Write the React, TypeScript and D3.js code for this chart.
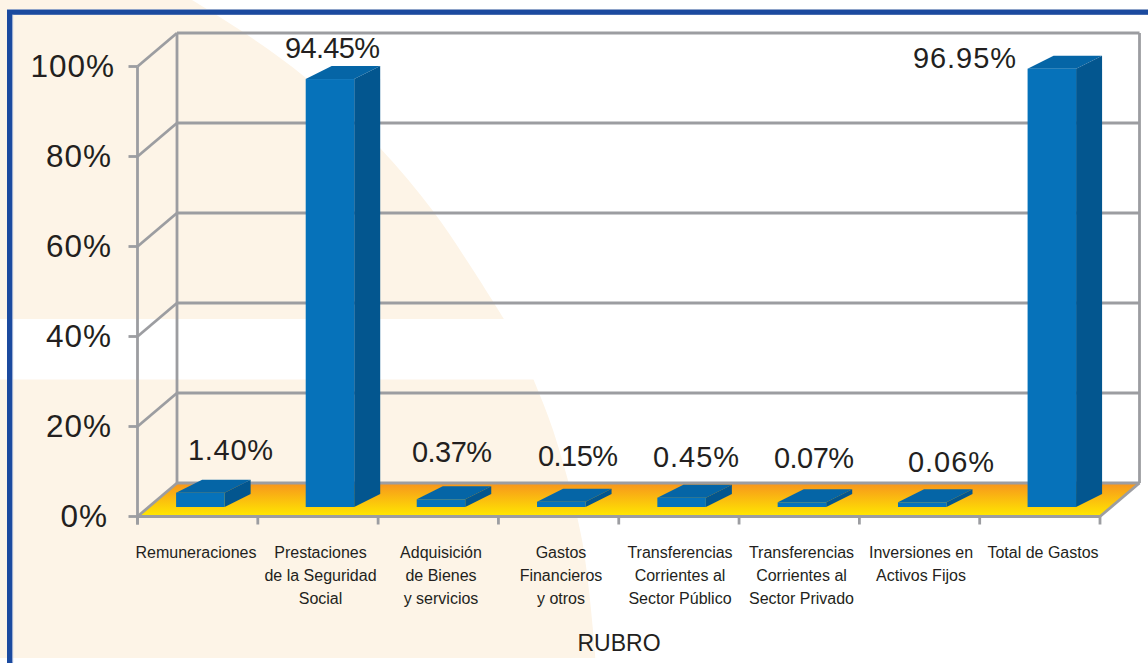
import React from "react";
import * as d3 from "d3";

// ---- data ----
const categories = [
  "Remuneraciones",
  "Prestaciones de la Seguridad Social",
  "Adquisición de Bienes y servicios",
  "Gastos Financieros y otros",
  "Transferencias Corrientes al Sector Público",
  "Transferencias Corrientes al Sector Privado",
  "Inversiones en Activos Fijos",
  "Total de Gastos",
];
const categoryLines = [
  ["Remuneraciones"],
  ["Prestaciones", "de la Seguridad", "Social"],
  ["Adquisición", "de Bienes", "y servicios"],
  ["Gastos", "Financieros", "y otros"],
  ["Transferencias", "Corrientes al", "Sector Público"],
  ["Transferencias", "Corrientes al", "Sector Privado"],
  ["Inversiones en", "Activos Fijos"],
  ["Total de Gastos"],
];
const valueLabels = ["1.40%", "94.45%", "0.37%", "0.15%", "0.45%", "0.07%", "0.06%", "96.95%"];
// The bars in the source are not proportional to their printed labels at small values,
// so the height each bar shows on the axis is read separately (in percent).
const shownHeights = [3.18, 95.1, 1.71, 1.18, 2.07, 1.04, 1.04, 97.4];
const yTicks = [0, 20, 40, 60, 80, 100];
const axisTitle = "RUBRO";

// ---- layout ----
const W = 1148;
const H = 663;
const FRONT_LEFT = 137.5;
const FRONT_RIGHT = 1100;
const FRONT_BOTTOM = 516.5;
const FRONT_TOP = 66.5;
const DEPTH_X = 39.5;
const DEPTH_Y = 33.5;
const BAR_BASE = 507;
const BAR_W = 48.5;
const BAR_DX = 26;
const BAR_DY = 13;
const labelCenterX = [230.5, 332.5, 452, 578, 696, 814, 951, 964.5];
const labelBaseY = [460, 58, 462, 466, 467, 468, 472, 68];
const labelWidth = [85, 95, 80, 80, 86, 80, 86, 103];
const categoryCenterX = [196, 320.5, 441, 561, 680, 801.5, 921, 1043];
const tickLabelRight = [108, 112, 112, 112, 112, 115];

const creamTop: [number, number][] = [
  [192, 0], [240, 30], [306, 78], [380, 148], [433, 211], [473, 270], [504, 319],
];
const creamBottom: [number, number][] = [
  [533.5, 379.5], [553, 430], [582, 540], [595.5, 658],
];

const GRAY = "#9c9da1";
const INK = "#231f20";
const CREAM = "#fdf4e7";
const FONT = "'Liberation Sans', Arial, sans-serif";

export default function App() {
  const x = d3.scaleBand<string>().domain(categories).range([FRONT_LEFT, FRONT_RIGHT]);
  const y = d3.scaleLinear().domain([0, 100]).range([FRONT_BOTTOM, FRONT_TOP]);
  const curve = d3.line().curve(d3.curveCatmullRom.alpha(0.5));
  const edgeTop = curve(creamTop) as string;
  const edgeBottom = curve(creamBottom) as string;
  const boundaries = [...categories.map((c) => x(c) as number), FRONT_RIGHT];

  const barLeft = (i: number) =>
    (x(categories[i]) as number) + (shownHeights[i] > 50 ? 47.9 : 38.6);
  const barTop = (i: number) => BAR_BASE - (y(0) - y(shownHeights[i]));

  return (
    <svg
      width={W}
      height={H}
      viewBox={`0 0 ${W} ${H}`}
      style={{ position: "fixed", left: 0, top: 0, display: "block", background: "#fff" }}
    >
      <defs>
        <linearGradient id="floor" x1="0" y1="0" x2="0" y2="1">
          <stop offset="0" stopColor="#f7941d" />
          <stop offset="1" stopColor="#ffe900" />
        </linearGradient>
      </defs>

      {/* cream background */}
      <path d={`${edgeTop} L0,319 L0,0 Z`} fill={CREAM} />
      <path d={`${edgeBottom} L0,658 L0,379.5 Z`} fill={CREAM} />

      {/* frame */}
      <rect x={7} y={9} width={W - 7} height={6} fill="#8ea3c9" />
      <rect x={7} y={10} width={W - 7} height={4.6} fill="#1b4a9f" />
      <rect x={7} y={10} width={5.6} height={H - 10} fill="#1b4a9f" />
      <rect x={12.4} y={14.6} width={0.8} height={H - 15} fill="#b9c6df" />

      {/* floor */}
      <polygon
        points={`${FRONT_LEFT},${FRONT_BOTTOM} ${FRONT_RIGHT},${FRONT_BOTTOM} ${FRONT_RIGHT + DEPTH_X},${FRONT_BOTTOM - DEPTH_Y} ${FRONT_LEFT + DEPTH_X},${FRONT_BOTTOM - DEPTH_Y}`}
        fill="url(#floor)"
      />

      {/* grid */}
      <g stroke={GRAY} strokeWidth={2.8} fill="none" strokeLinejoin="round">
        {yTicks.map((t) => (
          <g key={t}>
            <line x1={FRONT_LEFT - 9} x2={FRONT_LEFT} y1={y(t)} y2={y(t)} />
            <line x1={FRONT_LEFT} x2={FRONT_LEFT + DEPTH_X} y1={y(t)} y2={y(t) - DEPTH_Y} />
            <line x1={FRONT_LEFT + DEPTH_X} x2={FRONT_RIGHT + DEPTH_X} y1={y(t) - DEPTH_Y} y2={y(t) - DEPTH_Y} />
          </g>
        ))}
        <line x1={FRONT_LEFT} x2={FRONT_LEFT} y1={y(100)} y2={y(0) + 8} />
        <line x1={FRONT_LEFT + DEPTH_X} x2={FRONT_LEFT + DEPTH_X} y1={y(100) - DEPTH_Y} y2={y(0) - DEPTH_Y} />
        <line x1={FRONT_RIGHT + DEPTH_X} x2={FRONT_RIGHT + DEPTH_X} y1={y(100) - DEPTH_Y} y2={y(0) - DEPTH_Y} />
        <line x1={FRONT_RIGHT} x2={FRONT_RIGHT + DEPTH_X} y1={y(0)} y2={y(0) - DEPTH_Y} />
        <line x1={FRONT_LEFT} x2={FRONT_RIGHT} y1={y(0)} y2={y(0)} />
        {boundaries.map((b, i) => (
          <line key={i} x1={b} x2={b} y1={y(0)} y2={y(0) + 8} />
        ))}
      </g>

      {/* bars */}
      {categories.map((c, i) => {
        const l = barLeft(i);
        const t = barTop(i);
        const r = l + BAR_W;
        return (
          <g key={c}>
            <polygon
              points={`${l},${t} ${r},${t} ${r + BAR_DX},${t - BAR_DY} ${l + BAR_DX},${t - BAR_DY}`}
              fill="#0565a6"
            />
            <polygon
              points={`${r},${t} ${r + BAR_DX},${t - BAR_DY} ${r + BAR_DX},${BAR_BASE - BAR_DY} ${r},${BAR_BASE}`}
              fill="#03568f"
            />
            <rect x={l} y={t} width={BAR_W} height={BAR_BASE - t} fill="#0672ba" />
          </g>
        );
      })}

      {/* y tick labels */}
      <g fontFamily={FONT} fontSize={31.5} fill={INK} textAnchor="end" letterSpacing={1}>
        {yTicks.map((t, i) => (
          <text key={t} x={tickLabelRight[i]} y={y(t) + 10.3}>
            {t}%
          </text>
        ))}
      </g>

      {/* value labels */}
      <g fontFamily={FONT} fontSize={29} fill={INK} textAnchor="middle">
        {valueLabels.map((v, i) => (
          <text
            key={v}
            x={labelCenterX[i]}
            y={labelBaseY[i]}
            textLength={labelWidth[i]}
            lengthAdjust="spacing"
          >
            {v}
          </text>
        ))}
      </g>

      {/* category labels */}
      <g fontFamily={FONT} fontSize={16} fill={INK} textAnchor="middle">
        {categoryLines.map((lines, i) =>
          lines.map((ln, j) => (
            <text key={`${i}-${j}`} x={categoryCenterX[i]} y={557.5 + j * 23.2}>
              {ln}
            </text>
          ))
        )}
      </g>

      <text x={619} y={651} fontFamily={FONT} fontSize={23} fill={INK} textAnchor="middle">
        {axisTitle}
      </text>
    </svg>
  );
}
